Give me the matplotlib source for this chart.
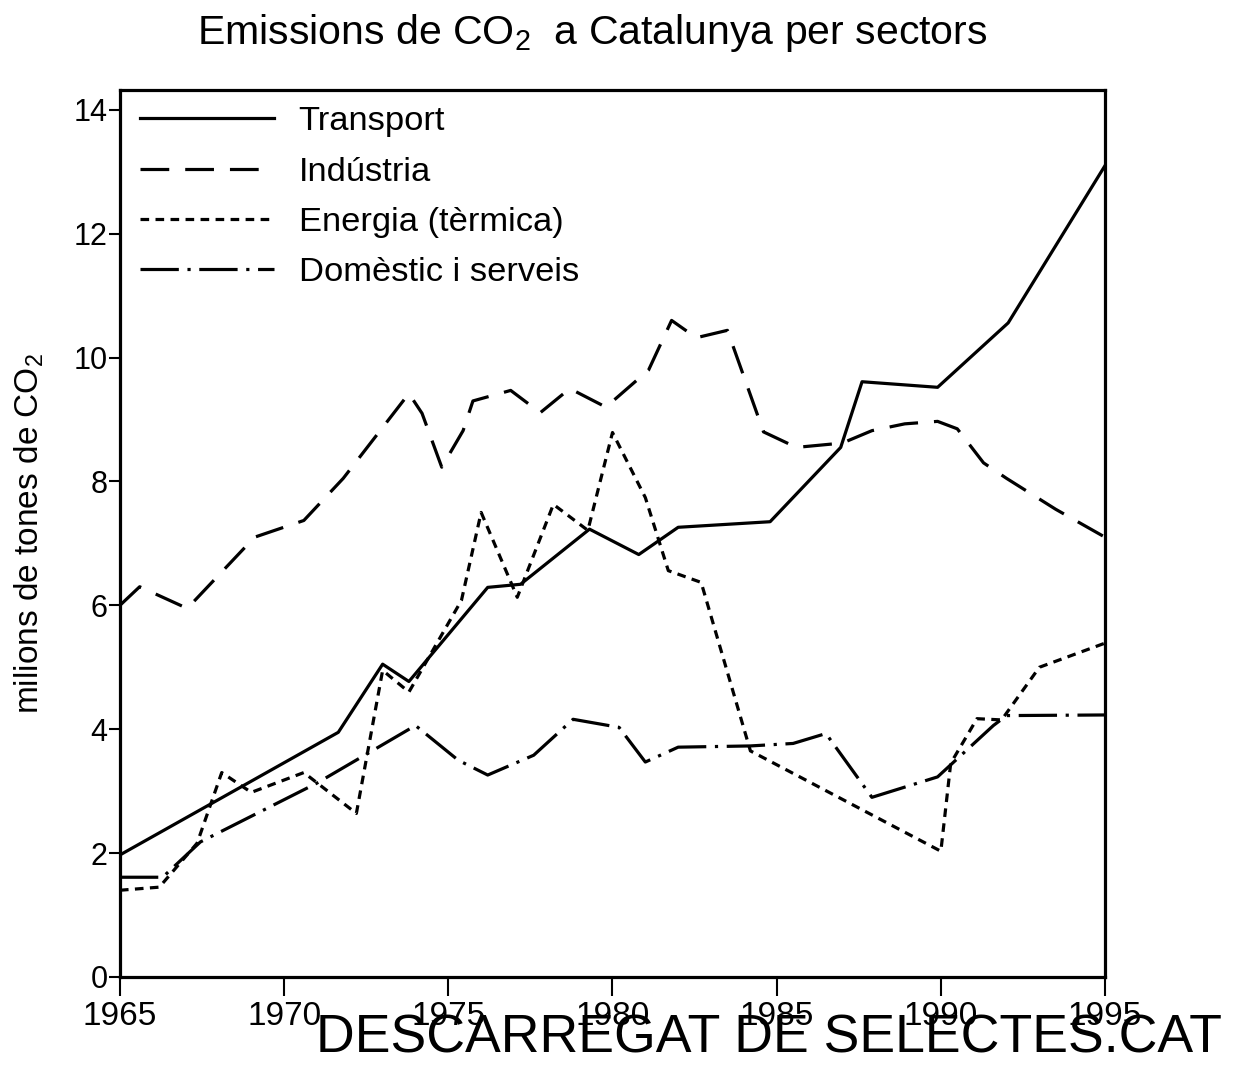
import numpy as np
import matplotlib
matplotlib.use("Agg")
import matplotlib.pyplot as plt

plt.rcParams['font.family'] = ['Liberation Sans', 'DejaVu Sans']
plt.rcParams['mathtext.fontset'] = 'custom'
plt.rcParams['mathtext.rm'] = 'Liberation Sans'
plt.rcParams['mathtext.it'] = 'Liberation Sans'

# Transport
anys_transport = [1965, 1971.65, 1973.0, 1973.8, 1976.2, 1977.2, 1979.3, 1980.8, 1982.0,
                  1984.8, 1986.95, 1987.6, 1989.9, 1992.05, 1995]
transport = [1.97, 3.95, 5.05, 4.77, 6.29, 6.34, 7.23, 6.82, 7.26,
             7.35, 8.55, 9.61, 9.52, 10.56, 13.1]

# Industria
anys_industria = [1965, 1965.6, 1967.05, 1969.1, 1970.6, 1971.8, 1973.8, 1974.2, 1974.8,
                  1975.45, 1975.75, 1976.9, 1977.8, 1978.7, 1979.8, 1981.1, 1981.8,
                  1982.55, 1983.5, 1984.6, 1985.6, 1987.0, 1987.9, 1988.9, 1989.9,
                  1990.5, 1991.3, 1992.0, 1993.5, 1995]
industria = [6.0, 6.3, 5.95, 7.1, 7.37, 8.05, 9.42, 9.1, 8.23,
             8.82, 9.3, 9.47, 9.11, 9.5, 9.2, 9.8, 10.6,
             10.32, 10.44, 8.8, 8.55, 8.62, 8.82, 8.93, 8.97,
             8.85, 8.3, 8.05, 7.55, 7.1]

# Energia (termica)
anys_energia = [1965, 1966.2, 1967.35, 1968.1, 1969.0, 1970.6, 1972.2, 1973.0, 1973.8,
                1975.4, 1976.0, 1977.1, 1978.2, 1979.25, 1980.0, 1981.0, 1981.7,
                1982.7, 1984.2, 1990.0, 1990.3, 1991.1, 1991.85, 1993.0, 1995]
energia = [1.4, 1.45, 2.16, 3.3, 2.98, 3.3, 2.64, 4.95, 4.6,
           6.08, 7.5, 6.13, 7.63, 7.21, 8.79, 7.74, 6.56,
           6.37, 3.65, 2.03, 3.45, 4.17, 4.15, 5.0, 5.39]

# Domestic i serveis
anys_domestic = [1965, 1966.3, 1967.45, 1971.0, 1974.0, 1975.3, 1976.2, 1977.6, 1978.8,
                 1980.2, 1981.0, 1982.0, 1984.2, 1985.5, 1986.5, 1987.9, 1989.9,
                 1991.6, 1992.0, 1995]
domestic = [1.61, 1.61, 2.18, 3.13, 4.06, 3.5, 3.26, 3.58, 4.16,
            4.03, 3.47, 3.71, 3.73, 3.77, 3.93, 2.9, 3.23,
            4.06, 4.22, 4.23]

fig = plt.figure(figsize=(12.34, 10.69), dpi=100)
ax = fig.add_axes([0.0972, 0.0861, 0.7983, 0.8297])

lw = 2.3
ax.plot(anys_transport, transport, color='black', lw=lw, label='Transport')
ax.plot(anys_industria, industria, color='black', lw=lw, dashes=(9, 5), label='Indústria')
ax.plot(anys_energia, energia, color='black', lw=lw, dashes=(2.7, 2), label='Energia (tèrmica)')
ax.plot(anys_domestic, domestic, color='black', lw=lw, dashes=(12, 2.7, 1, 2.7),
        label='Domèstic i serveis')

ax.set_xlim(1965, 1995)
ax.set_ylim(0, 14.32)
ax.set_xticks(np.arange(1965, 1996, 5))
ax.set_yticks(np.arange(0, 15, 2))
for s in ax.spines.values():
    s.set_linewidth(2.3)
ax.tick_params(axis='x', length=14, width=1.5, labelsize=24, pad=3)
ax.tick_params(axis='y', length=8, width=1.5, labelsize=22, pad=1)

ax.set_ylabel('milions de tones de CO$_2$', fontsize=24, labelpad=20)

leg = ax.legend(loc='upper left', frameon=False, fontsize=24.8, handlelength=3.9,
                labelspacing=0.56, handletextpad=0.7, borderaxespad=0.3,
                bbox_to_anchor=(-0.004, 1.009))

fig.text(0.48, 0.969, 'Emissions de CO$_2$  a Catalunya per sectors', fontsize=29.5,
         ha='center', va='center')
fig.text(0.99, 0.005, 'DESCARREGAT DE SELECTES.CAT', fontsize=38.6, ha='right', va='bottom')

fig.savefig('out.png', dpi=100)
